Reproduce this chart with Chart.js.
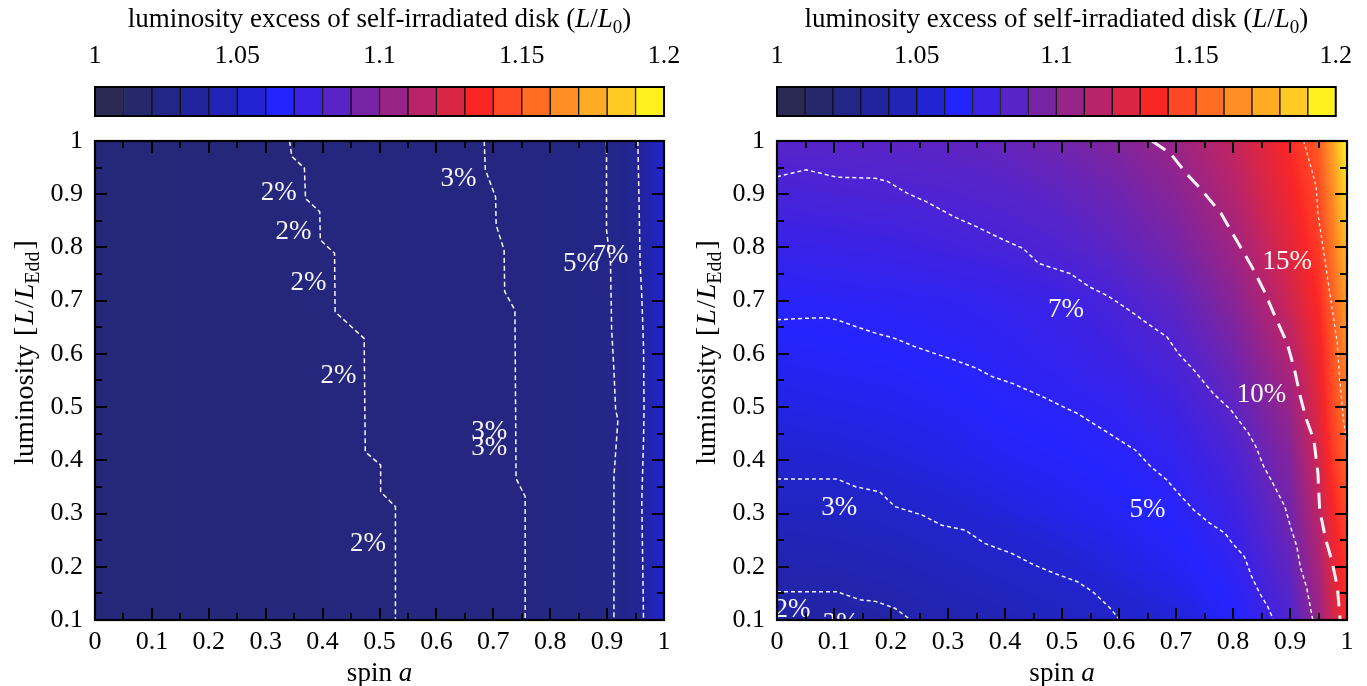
<!DOCTYPE html>
<html>
<head>
<meta charset="utf-8">
<script src="https://cdn.jsdelivr.net/npm/chart.js@4.4.1/dist/chart.umd.min.js"></script>
<style>
html,body{margin:0;padding:0;background:#fff;width:1367px;height:686px;overflow:hidden}
canvas{position:absolute;left:0;top:0}
</style>
</head>
<body>
<canvas id="cbL" width="1367" height="686"></canvas>
<canvas id="cbR" width="1367" height="686"></canvas>
<canvas id="hmL" width="1367" height="686"></canvas>
<canvas id="hmR" width="1367" height="686"></canvas>
<script>
// ---------------- data ----------------
const cbColors = ['#2a2a54','#26286c','#242685','#22249e','#2224b6','#2224d2','#2424ff','#3c22e4','#5824c8','#7824a5',
                  '#982487','#b92469','#da2644','#fa2626','#ff4824','#ff6c24','#ff8e24','#ffac24','#ffca24','#fff01e'];
const cbEdges = [1.00,1.01,1.02,1.03,1.04,1.05,1.06,1.07,1.08,1.09,1.10,1.11,1.12,1.13,1.14,1.15,1.16,1.17,1.18,1.19,1.20];
const cbTicks = [1, 1.05, 1.1, 1.15, 1.2];

const spinTicks = [0,0.1,0.2,0.3,0.4,0.5,0.6,0.7,0.8,0.9,1];
const spinMinor = [0.05,0.15,0.25,0.35,0.45,0.55,0.65,0.75,0.85,0.95];
const lumTicks = [0.1,0.2,0.3,0.4,0.5,0.6,0.7,0.8,0.9,1];
const lumMinor = [0.15,0.25,0.35,0.45,0.55,0.65,0.75,0.85,0.95];

// heat-map grid (columns = spin, rows = luminosity)
const spinGrid = [0,0.1,0.2,0.3,0.4,0.5,0.6,0.7,0.8,0.9,0.95,0.975,1];
const lumGrid = [0.1,0.2,0.3,0.4,0.5,0.6,0.7,0.8,0.9,1.0];

const excessLeft = [
  [1.020,1.020,1.021,1.021,1.022,1.022,1.023,1.023,1.024,1.026,1.030,1.042,1.055],
  [1.020,1.020,1.021,1.021,1.022,1.022,1.023,1.023,1.024,1.026,1.030,1.042,1.055],
  [1.020,1.020,1.021,1.021,1.022,1.022,1.023,1.023,1.024,1.026,1.030,1.042,1.055],
  [1.020,1.020,1.021,1.021,1.022,1.022,1.023,1.023,1.024,1.026,1.030,1.042,1.055],
  [1.020,1.020,1.021,1.021,1.022,1.022,1.023,1.023,1.024,1.026,1.030,1.042,1.055],
  [1.020,1.020,1.021,1.021,1.022,1.022,1.023,1.023,1.024,1.026,1.030,1.042,1.055],
  [1.020,1.020,1.021,1.021,1.022,1.022,1.023,1.023,1.024,1.026,1.030,1.042,1.055],
  [1.020,1.020,1.021,1.021,1.022,1.022,1.023,1.023,1.024,1.026,1.030,1.042,1.055],
  [1.020,1.020,1.021,1.021,1.022,1.022,1.023,1.023,1.024,1.026,1.030,1.042,1.055],
  [1.020,1.020,1.021,1.021,1.022,1.022,1.023,1.023,1.024,1.026,1.030,1.042,1.055]
];
const excessRight = [
  [1.036,1.037,1.039,1.042,1.045,1.048,1.052,1.056,1.064,1.082,1.105,1.122,1.136],
  [1.042,1.043,1.045,1.048,1.051,1.054,1.058,1.062,1.070,1.088,1.110,1.127,1.140],
  [1.048,1.049,1.051,1.054,1.057,1.060,1.063,1.067,1.075,1.093,1.116,1.133,1.146],
  [1.054,1.055,1.057,1.059,1.062,1.064,1.067,1.071,1.080,1.098,1.122,1.140,1.152],
  [1.059,1.060,1.061,1.063,1.066,1.068,1.071,1.076,1.086,1.105,1.127,1.145,1.158],
  [1.063,1.064,1.065,1.067,1.069,1.072,1.076,1.081,1.093,1.113,1.131,1.148,1.164],
  [1.067,1.068,1.069,1.070,1.072,1.075,1.080,1.087,1.100,1.121,1.136,1.152,1.170],
  [1.073,1.074,1.075,1.077,1.079,1.082,1.087,1.094,1.107,1.127,1.141,1.158,1.180],
  [1.079,1.080,1.081,1.082,1.084,1.087,1.092,1.100,1.113,1.132,1.145,1.164,1.190],
  [1.085,1.085,1.086,1.087,1.089,1.093,1.098,1.106,1.118,1.136,1.150,1.172,1.199]
];

// contours, left panel
const left2Spin = [0.342,0.346,0.368,0.370,0.395,0.396,0.421,0.422,0.473,0.475,0.502,0.502,0.528,0.528];
const left2Lum  = [1.0,0.971,0.949,0.892,0.867,0.814,0.789,0.679,0.629,0.416,0.391,0.341,0.313,0.1];
const left3Spin = [0.684,0.686,0.704,0.705,0.719,0.720,0.738,0.740,0.756,0.756];
const left3Lum  = [1.0,0.946,0.895,0.842,0.795,0.717,0.682,0.366,0.332,0.1];
const left5Spin = [0.899,0.899,0.906,0.908,0.912,0.915,0.919,0.912,0.912];
const left5Lum  = [1.0,0.833,0.770,0.645,0.570,0.495,0.476,0.369,0.1];
const left7Spin = [0.954,0.956,0.958,0.961,0.964,0.965,0.964,0.961,0.964];
const left7Lum  = [1.0,0.895,0.770,0.708,0.614,0.495,0.438,0.325,0.1];

// contours, right panel
const right2Spin = [0,0.105,0.146,0.173,0.207,0.235];
const right2Lum  = [0.153,0.153,0.138,0.135,0.122,0.1];
const right3Spin = [0,0.105,0.139,0.180,0.207,0.255,0.289,0.330,0.364,0.412,0.452,0.486,0.527,0.554,0.582,0.602];
const right3Lum  = [0.365,0.365,0.350,0.341,0.313,0.297,0.278,0.269,0.244,0.225,0.203,0.188,0.172,0.153,0.125,0.1];
const right5Spin = [0,0.051,0.085,0.105,0.139,0.173,0.207,0.241,0.276,0.310,0.350,0.378,0.412,0.446,0.473,0.507,0.527,0.582,0.629,0.656,0.684,0.704,0.731,0.759,0.786,0.799,0.820,0.833,0.847,0.861,0.871];
const right5Lum  = [0.664,0.667,0.668,0.664,0.651,0.639,0.629,0.614,0.601,0.589,0.573,0.557,0.545,0.529,0.516,0.498,0.488,0.451,0.419,0.388,0.363,0.338,0.307,0.282,0.263,0.244,0.219,0.181,0.150,0.125,0.1];
const right7Spin = [0,0.051,0.105,0.173,0.194,0.228,0.262,0.310,0.350,0.398,0.432,0.459,0.514,0.548,0.582,0.622,0.650,0.684,0.704,0.731,0.765,0.796,0.827,0.840,0.854,0.867,0.891,0.901,0.912,0.918,0.929,0.940];
const right7Lum  = [0.933,0.946,0.932,0.930,0.924,0.902,0.886,0.858,0.839,0.814,0.798,0.770,0.751,0.726,0.708,0.679,0.657,0.632,0.601,0.570,0.526,0.495,0.451,0.426,0.388,0.363,0.313,0.275,0.238,0.200,0.162,0.1];
const right10Spin = [0.658,0.690,0.718,0.745,0.779,0.806,0.833,0.854,0.874,0.895,0.908,0.918,0.929,0.942,0.949,0.952,0.963,0.973,0.983,0.988];
const right10Lum  = [1.0,0.977,0.939,0.908,0.864,0.814,0.764,0.720,0.670,0.620,0.570,0.520,0.476,0.438,0.376,0.307,0.250,0.213,0.163,0.1];
const right15Spin = [0.924,0.935,0.946,0.949,0.956,0.963,0.969,0.976,0.983,0.986,0.990,0.994,1.0];
const right15Lum  = [1.0,0.958,0.914,0.864,0.814,0.764,0.720,0.670,0.620,0.570,0.520,0.475,0.43];

// contour labels
const leftLabelText = ['2%','2%','2%','2%','2%','3%','3%','3%','5%','7%'];
const leftLabelSpin = [0.323,0.349,0.375,0.428,0.480,0.639,0.693,0.693,0.854,0.906];
const leftLabelLum  = [0.902,0.830,0.733,0.558,0.243,0.928,0.454,0.423,0.770,0.784];
const rightLabelText = ['7%','15%','10%','5%','3%','2%','2%','3%'];
const rightLabelSpin = [0.507,0.895,0.850,0.650,0.109,0.027,0.112,-0.030];
const rightLabelLum  = [0.682,0.773,0.523,0.307,0.310,0.119,0.093,0.322];

// ---------------- helpers ----------------
const FONT = 'Liberation Serif';
const FS_TICK = 26;   // tick numbers
const FS_TEXT = 27;   // titles and contour labels
const FS_YT = 28;     // rotated axis title
Chart.defaults.font.family = FONT;
Chart.defaults.font.size = FS_TICK;
Chart.defaults.color = '#000';

function hexRgb(h){ return [parseInt(h.slice(1,3),16),parseInt(h.slice(3,5),16),parseInt(h.slice(5,7),16)]; }
const cmapRgb = cbColors.map(hexRgb);
const cmapPos = cbColors.map((c,i)=>(cbEdges[i]+cbEdges[i+1])/2);
function cmap(v){
  if (v <= cmapPos[0]) return cmapRgb[0];
  const n = cmapPos.length;
  if (v >= cmapPos[n-1]) return cmapRgb[n-1];
  let i = 0; while (v > cmapPos[i+1]) i++;
  const t = (v-cmapPos[i])/(cmapPos[i+1]-cmapPos[i]);
  const a = cmapRgb[i], b = cmapRgb[i+1];
  return [a[0]+(b[0]-a[0])*t, a[1]+(b[1]-a[1])*t, a[2]+(b[2]-a[2])*t];
}
function locate(arr, v){
  if (v <= arr[0]) return [0,0];
  const n = arr.length;
  if (v >= arr[n-1]) return [n-2,1];
  let i = 0; while (v > arr[i+1]) i++;
  return [i,(v-arr[i])/(arr[i+1]-arr[i])];
}
function sample(grid, a, L){
  const [i,ti] = locate(spinGrid, a);
  const [j,tj] = locate(lumGrid, L);
  const v00 = grid[j][i], v01 = grid[j][i+1], v10 = grid[j+1][i], v11 = grid[j+1][i+1];
  return (v00*(1-ti)+v01*ti)*(1-tj) + (v10*(1-ti)+v11*ti)*tj;
}
function fmt(v){ return String(Number(v.toFixed(2))); }

// rich text: parts = [{t, it, sub}]
function partFont(p, fs){ return (p.it?'italic ':'') + (p.sub?Math.round(fs*0.72):fs) + 'px "' + FONT + '"'; }
function richWidth(ctx, parts, fs){
  let w = 0;
  for (const p of parts){ ctx.font = partFont(p, fs); w += ctx.measureText(p.t).width + (p.gap||0); }
  return w;
}
function drawRich(ctx, parts, x, y, fs){
  const w = richWidth(ctx, parts, fs);
  let cx = x - w/2;
  ctx.textAlign = 'left'; ctx.textBaseline = 'alphabetic';
  for (const p of parts){
    ctx.font = partFont(p, fs);
    ctx.fillText(p.t, cx, y + (p.sub ? fs*0.22 : 0));
    cx += ctx.measureText(p.t).width + (p.gap||0);
  }
}
const cbTitle = [{t:'luminosity excess of self-irradiated disk ('},{t:'L',it:true},{t:'/'},{t:'L',it:true},{t:'0',sub:true},{t:')'}];
const yTitle = [{t:'luminosity ',gap:2},{t:'[',gap:2},{t:'L',it:true,gap:1},{t:'/',gap:1},{t:'L',it:true},{t:'Edd',sub:true,gap:2},{t:']'}];
const xTitle = [{t:'spin '},{t:'a',it:true}];

// ---------------- colorbars ----------------
const cbPlugin = {
  id:'cbDeco',
  afterDraw(chart){
    const {ctx, chartArea:ca} = chart;
    ctx.save();
    ctx.strokeStyle = '#000'; ctx.lineWidth = 2;
    ctx.strokeRect(ca.left, ca.top, ca.right-ca.left, ca.bottom-ca.top);
    ctx.fillStyle = '#000';
    drawRich(ctx, cbTitle, (ca.left+ca.right)/2, 27, FS_TEXT);
    ctx.restore();
  }
};
function makeColorbar(id, padL, padR){
  new Chart(document.getElementById(id), {
    type:'bar',
    data:{ labels:[''], datasets: cbColors.map((c,i)=>({
      data:[[cbEdges[i], cbEdges[i+1]]], backgroundColor:c, borderColor:'#111', borderWidth:1,
      borderSkipped:false, grouped:false, barPercentage:1, categoryPercentage:1 })) },
    options:{
      indexAxis:'y', responsive:false, animation:false, devicePixelRatio:1,
      layout:{padding:{left:padL, right:padR, top:0, bottom:570}},
      plugins:{legend:{display:false}, tooltip:{enabled:false}},
      scales:{
        x:{ type:'linear', position:'top', min:1, max:1.2,
            afterBuildTicks:s=>{ s.ticks = cbTicks.map(v=>({value:v})); },
            afterFit:s=>{ s.height = 87; },
            grid:{display:false, drawTicks:false}, border:{display:false},
            ticks:{ padding:15, maxRotation:0, autoSkip:false, callback:v=>fmt(v), color:'#000' } },
        y:{ display:false }
      }
    },
    plugins:[cbPlugin]
  });
}
makeColorbar('cbL', 95, 703);
makeColorbar('cbR', 777, 20);

// ---------------- heat maps ----------------
function heatPlugin(grid){
  return {
    id:'heat',
    beforeDatasetsDraw(chart){
      const {ctx, chartArea:ca, scales:{x,y}} = chart;
      const l = Math.round(ca.left), t = Math.round(ca.top);
      const w = Math.round(ca.right) - l, h = Math.round(ca.bottom) - t;
      const off = document.createElement('canvas'); off.width = w; off.height = h;
      const octx = off.getContext('2d');
      const img = octx.createImageData(w, h);
      for (let py=0; py<h; py++){
        const L = y.getValueForPixel(t+py+0.5);
        for (let px=0; px<w; px++){
          const a = x.getValueForPixel(l+px+0.5);
          const c = cmap(sample(grid, a, L));
          const k = (py*w+px)*4;
          img.data[k]=c[0]; img.data[k+1]=c[1]; img.data[k+2]=c[2]; img.data[k+3]=255;
        }
      }
      octx.putImageData(img,0,0);
      ctx.drawImage(off, l, t);
    }
  };
}
function decoPlugin(texts, spins, lums){
  return {
    id:'deco',
    afterDatasetsDraw(chart){
      const {ctx, chartArea:ca, scales:{x,y}} = chart;
      ctx.save();
      ctx.beginPath(); ctx.rect(ca.left, ca.top, ca.right-ca.left, ca.bottom-ca.top); ctx.clip();
      ctx.fillStyle = 'rgba(255,255,255,0.96)';
      ctx.font = FS_TEXT + 'px "' + FONT + '"';
      ctx.textAlign = 'center'; ctx.textBaseline = 'middle';
      texts.forEach((s,i)=>ctx.fillText(s, x.getPixelForValue(spins[i]), y.getPixelForValue(lums[i])));
      ctx.restore();
    },
    afterDraw(chart){
      const {ctx, chartArea:ca, scales:{x,y}} = chart;
      ctx.save();
      ctx.strokeStyle = '#000'; ctx.lineWidth = 2;
      ctx.beginPath();
      const tick = (vals, len) => {
        vals.forEach(v=>{
          const px = Math.round(x.getPixelForValue(v));
          ctx.moveTo(px, ca.bottom); ctx.lineTo(px, ca.bottom-len);
          ctx.moveTo(px, ca.top); ctx.lineTo(px, ca.top+len);
        });
      };
      const tickY = (vals, len) => {
        vals.forEach(v=>{
          const py = Math.round(y.getPixelForValue(v));
          ctx.moveTo(ca.left, py); ctx.lineTo(ca.left+len, py);
          ctx.moveTo(ca.right, py); ctx.lineTo(ca.right-len, py);
        });
      };
      tick(spinTicks, 12); tick(spinMinor, 7);
      tickY(lumTicks, 12); tickY(lumMinor, 7);
      ctx.stroke();
      ctx.lineWidth = 2.2;
      ctx.strokeRect(ca.left, ca.top, ca.right-ca.left, ca.bottom-ca.top);
      ctx.fillStyle = '#000';
      drawRich(ctx, xTitle, (ca.left+ca.right)/2, ca.bottom+61, FS_TEXT);
      ctx.translate(ca.left-62, (ca.top+ca.bottom)/2 - 28);
      ctx.rotate(-Math.PI/2);
      drawRich(ctx, yTitle, 0, 0, FS_YT);
      ctx.restore();
    }
  };
}
function line(spin, lum, w, dash){
  return { data: spin.map((s,i)=>({x:s, y:lum[i]})), showLine:true, borderColor:'rgba(255,255,255,0.95)',
           borderWidth:w, borderDash:dash, pointRadius:0, fill:false, tension:0, clip:0 };
}
function makeHeat(id, padL, padR, grid, datasets, texts, spins, lums){
  new Chart(document.getElementById(id), {
    type:'scatter',
    data:{ datasets },
    options:{
      responsive:false, animation:false, devicePixelRatio:1,
      layout:{padding:{left:padL, right:padR, top:141, bottom:0}},
      plugins:{legend:{display:false}, tooltip:{enabled:false}},
      scales:{
        x:{ type:'linear', position:'bottom', min:0, max:1,
            afterBuildTicks:s=>{ s.ticks = spinTicks.map(v=>({value:v})); },
            afterFit:s=>{ s.height = 66; },
            grid:{display:false, drawTicks:false}, border:{display:false},
            ticks:{ padding:7, maxRotation:0, autoSkip:false, callback:v=>fmt(v), color:'#000' } },
        y:{ type:'linear', position:'left', min:0.1, max:1,
            afterBuildTicks:s=>{ s.ticks = lumTicks.map(v=>({value:v})); },
            afterFit:s=>{ s.width = 95; },
            grid:{display:false, drawTicks:false}, border:{display:false},
            ticks:{ padding:12, autoSkip:false, callback:v=>fmt(v), color:'#000' } }
      }
    },
    plugins:[heatPlugin(grid), decoPlugin(texts, spins, lums)]
  });
}
makeHeat('hmL', 0, 703, excessLeft, [
  line(left2Spin, left2Lum, 1.5, [5,3]),
  line(left3Spin, left3Lum, 1.5, [5,3]),
  line(left5Spin, left5Lum, 1.5, [5,3]),
  line(left7Spin, left7Lum, 1.5, [5,3])
], leftLabelText, leftLabelSpin, leftLabelLum);
makeHeat('hmR', 682, 20, excessRight, [
  line(right2Spin, right2Lum, 1.5, [4,3]),
  line(right3Spin, right3Lum, 1.5, [4,3]),
  line(right5Spin, right5Lum, 1.5, [4,3]),
  line(right7Spin, right7Lum, 1.5, [4,3]),
  line(right10Spin, right10Lum, 3, [16,9]),
  line(right15Spin, right15Lum, 1.2, [3,3])
], rightLabelText, rightLabelSpin, rightLabelLum);
</script>
</body>
</html>
